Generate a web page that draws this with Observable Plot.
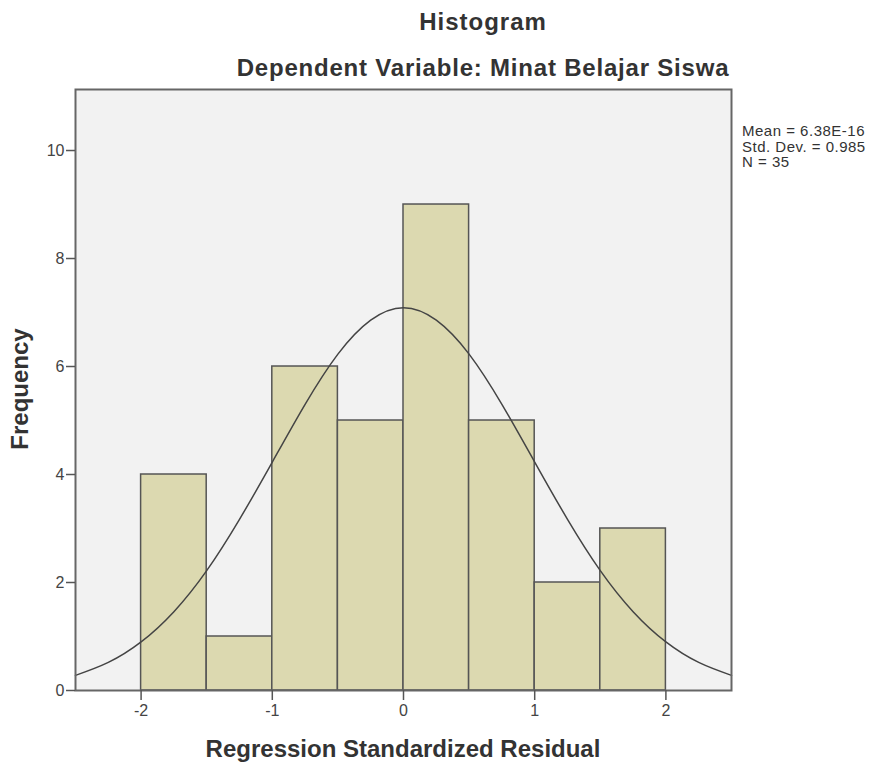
<!DOCTYPE html>
<html>
<head>
<meta charset="utf-8">
<script src="https://cdn.jsdelivr.net/npm/d3@7"></script>
<script src="https://cdn.jsdelivr.net/npm/@observablehq/plot@0.6"></script>
<style>
  html, body { margin: 0; padding: 0; background: #fff; }
  #wrap { position: relative; width: 878px; height: 764px; font-family: "Liberation Sans", Arial, sans-serif; }
  .t { position: absolute; white-space: nowrap; color: #333; }
  .bold { font-weight: bold; font-size: 24px; line-height: 24px; }
  #legend { position: absolute; left: 742px; top: 123px; font-size: 15px; line-height: 15.5px; letter-spacing: 0.5px; color: #333; }
  #chart svg text { font-size: 16px; }
</style>
</head>
<body>
<div id="wrap">
  <div id="chart"></div>
  <div class="t bold" id="title" style="left:483px; top:10px; letter-spacing:1px; transform:translateX(-50%);">Histogram</div>
  <div class="t bold" id="subtitle" style="left:483px; top:56px; letter-spacing:0.8px; transform:translateX(-50%);">Dependent Variable: Minat Belajar Siswa</div>
  <div class="t bold" id="xlabel" style="left:403px; top:737px; transform:translateX(-50%);">Regression Standardized Residual</div>
  <div class="t bold" id="ylabel" style="left:20px; top:389px; transform:translate(-50%,-50%) rotate(-90deg);">Frequency</div>
  <div id="legend"></div>
</div>
<script>
// Histogram bins (Regression Standardized Residual)
const binLow  = [-2, -1.5, -1, -0.5, 0, 0.5, 1, 1.5];
const binHigh = [-1.5, -1, -0.5, 0, 0.5, 1, 1.5, 2];
const frequency = [4, 1, 6, 5, 9, 5, 2, 3];

// Normal curve
const curveX = [-2.5, -2.25, -2, -1.75, -1.5, -1.25, -1, -0.75, -0.5, -0.25, 0, 0.25, 0.5, 0.75, 1, 1.25, 1.5, 1.75, 2, 2.25, 2.5];
const curveY = [0.28, 0.52, 0.90, 1.46, 2.22, 3.17, 4.23, 5.30, 6.23, 6.86, 7.09, 6.86, 6.23, 5.30, 4.23, 3.17, 2.22, 1.46, 0.90, 0.52, 0.28];

const xTicks = [-2, -1, 0, 1, 2];
const yTicks = [0, 2, 4, 6, 8, 10];
const legendLines = ["Mean = 6.38E-16", "Std. Dev. = 0.985", "N = 35"];

const bins = binLow.map((lo, i) => ({lo, hi: binHigh[i], n: frequency[i]}));
const curve = curveX.map((x, i) => ({x, y: curveY[i]}));

const chart = Plot.plot({
  width: 878,
  height: 764,
  marginLeft: 75,
  marginRight: 147,
  marginTop: 89,
  marginBottom: 74,
  style: {fontFamily: "'Liberation Sans', Arial, sans-serif", fontSize: "16px", color: "#444", background: "transparent"},
  x: {domain: [-2.5, 2.5]},
  y: {domain: [0, 11.13]},
  marks: [
    Plot.frame({fill: "#f2f2f2", stroke: null}),
    Plot.rect(bins, {x1: "lo", x2: "hi", y1: 0, y2: "n", fill: "#dcd9b0", stroke: "#555", strokeWidth: 1.5}),
    Plot.line(curve, {x: "x", y: "y", curve: "natural", stroke: "#444", strokeWidth: 1.5}),
    Plot.frame({stroke: "#666", strokeWidth: 2}),
    Plot.axisX({ticks: xTicks, tickFormat: d => String(d), tickSize: 10, tickPadding: 4, fontSize: 16, stroke: "#555", strokeWidth: 1.5, label: null}),
    Plot.axisY({ticks: yTicks, tickFormat: d => String(d), tickSize: 9, tickPadding: 2, fontSize: 16, stroke: "#555", strokeWidth: 1.5, label: null})
  ]
});
document.getElementById("chart").appendChild(chart);
document.getElementById("legend").innerHTML = legendLines.map(s => `<div>${s}</div>`).join("");
</script>
</body>
</html>
